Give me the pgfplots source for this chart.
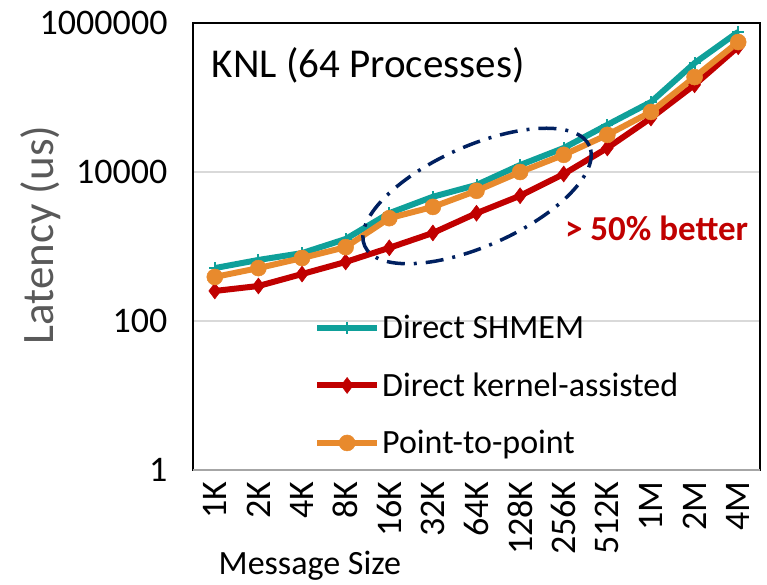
\documentclass[border=0pt]{standalone}
\usepackage{pgfplots}
\pgfplotsset{compat=1.18}
\usepackage{fontspec}
\setmainfont{Carlito}
\definecolor{cteal}{HTML}{0FA09A}
\definecolor{cred}{HTML}{C00000}
\definecolor{corange}{HTML}{E88A2D}
\definecolor{cnavy}{HTML}{002060}
\definecolor{gridgray}{HTML}{D9D9D9}
\definecolor{labgray}{HTML}{595959}
\newcommand\fs{\fontsize{36}{42}\selectfont}
\begin{document}
\begin{tikzpicture}
\path[use as bounding box] (-193pt,-114pt) rectangle (574pt,470pt);
\begin{axis}[
  at={(0pt,0pt)}, anchor=south west,
  scale only axis, width=567pt, height=447pt,
  ymode=log, ymin=1, ymax=1000000,
  xmin=-0.5, xmax=12.5,
  xtick={0,...,12},
  xticklabels={1K,2K,4K,8K,16K,32K,64K,128K,256K,512K,1M,2M,4M},
  ytick={1,100,10000,1000000}, yticklabels={1,100,10000,1000000},
  minor ytick={}, 
  major tick length=0pt, minor tick length=0pt,
  ymajorgrids, grid style={line width=1.5pt, color=gridgray},
  axis line style={line width=1.5pt, black},
  tick label style={font=\fs},
  x tick label style={rotate=90, anchor=east},
  xticklabel shift=8pt, yticklabel shift=22pt,
  legend style={draw=none, fill=none, font=\fontsize{34}{40}\selectfont, at={(rel axis cs:0.208,0.355)}, anchor=north west,
    row sep=28.5pt, nodes={inner sep=2pt}},
  legend cell align=left,
  legend image code/.code={\draw[mark repeat=2,mark phase=2] plot coordinates {(0pt,0pt) (30pt,0pt) (60pt,0pt)};},
  clip=false,
]
\addplot[cteal, line width=6pt, mark=+, mark size=6pt, mark options={line width=2pt}] coordinates {
(0,513) (1,660) (2,815) (3,1260) (4,2800) (5,4650) (6,6700) (7,12400) (8,21000) (9,43000) (10,87000) (11,290000) (12,760000)};
\addlegendentry{Direct SHMEM}
\addplot[cred, line width=6pt, mark=diamond*, mark size=8pt, mark options={line width=0.5pt, fill=cred}] coordinates {
(0,253) (1,295) (2,427) (3,620) (4,960) (5,1520) (6,2800) (7,4800) (8,9400) (9,21000) (10,53000) (11,148000) (12,480000)};
\addlegendentry{Direct kernel-assisted}
\addplot[corange, line width=6pt, mark=*, mark size=8pt, mark options={line width=0.5pt, fill=corange}] coordinates {
(0,390) (1,513) (2,700) (3,980) (4,2400) (5,3400) (6,5600) (7,10000) (8,17000) (9,31500) (10,64000) (11,188000) (12,555000)};
\addlegendentry{Point-to-point}
\draw[gray!70, line width=1.5pt] (rel axis cs:0,0) -- (rel axis cs:1,0);
\node[anchor=west, font=\fontsize{41}{48}\selectfont] at (rel axis cs:0.027,0.906) {KNL (64 Processes)};
\node[anchor=west, font=\fontsize{35}{42}\selectfont\bfseries, text=cred] at (rel axis cs:0.65,0.541) {> 50\% better};
\node[rotate=90, font=\fontsize{45}{52}\selectfont, text=labgray] at (rel axis cs:-0.268,0.526) {Latency (us)};
\node[font=\fontsize{34}{40}\selectfont] at (rel axis cs:0.206,-0.215) {Message Size};
\coordinate (E) at (rel axis cs:0.501,0.613);
\end{axis}
\draw[cnavy, line width=3.5pt, dash pattern=on 18pt off 9pt on 3pt off 9pt, shift={(E)}, rotate=24] (0,0) ellipse (123pt and 50pt);
\end{tikzpicture}
\end{document}
